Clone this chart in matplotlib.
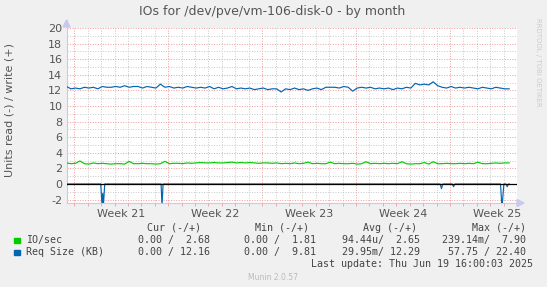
import numpy as np
import matplotlib
matplotlib.use('Agg')
import matplotlib.pyplot as plt
from matplotlib.patches import Polygon

plt.rcParams['axes.unicode_minus'] = False

# write side, sampled every 8 hours (1/3 day)
step_days = 1 / 3
io_write = [2.7, 2.6, 2.65, 2.95, 2.6, 2.55, 2.7, 2.6, 2.65, 2.6,
            2.55, 2.6, 2.6, 2.55, 2.9, 2.6, 2.6, 2.65, 2.6, 2.6,
            2.55, 2.6, 2.9, 2.6, 2.65, 2.65, 2.6, 2.7, 2.65, 2.7,
            2.75, 2.7, 2.7, 2.75, 2.7, 2.7, 2.75, 2.8, 2.7, 2.75,
            2.7, 2.75, 2.7, 2.65, 2.7, 2.7, 2.65, 2.7, 2.6, 2.65,
            2.6, 2.7, 2.6, 2.65, 2.8, 2.6, 2.65, 2.6, 2.6, 2.8,
            2.6, 2.65, 2.6, 2.6, 2.65, 2.55, 2.6, 2.85, 2.6, 2.65,
            2.6, 2.65, 2.6, 2.65, 2.6, 2.85, 2.6, 2.55, 2.6, 2.6,
            2.75, 2.55, 2.85, 2.6, 2.6, 2.65, 2.6, 2.6, 2.65, 2.6,
            2.65, 2.6, 2.8, 2.6, 2.6, 2.65, 2.7, 2.65, 2.7, 2.7]
req_write = [12.5, 12.2, 12.3, 12.2, 12.4, 12.3, 12.4, 12.2, 12.5, 12.4,
             12.4, 12.5, 12.4, 12.6, 12.4, 12.5, 12.5, 12.3, 12.5, 12.4,
             12.3, 12.8, 12.4, 12.5, 12.3, 12.4, 12.3, 12.5, 12.4, 12.3,
             12.4, 12.3, 12.5, 12.2, 12.4, 12.2, 12.3, 12.5, 12.2, 12.3,
             12.2, 12.3, 12.1, 12.2, 12.3, 12.1, 12.2, 12.2, 11.8, 12.2,
             12.1, 12.3, 12.1, 12.2, 12.0, 12.2, 12.3, 12.1, 12.4, 12.4,
             12.4, 12.3, 12.5, 12.4, 11.9, 12.3, 12.4, 12.3, 12.4, 12.2,
             12.3, 12.2, 12.3, 12.1, 12.3, 12.2, 12.4, 12.3, 12.9, 12.7,
             12.8, 12.7, 13.1, 12.6, 12.4, 12.3, 12.5, 12.3, 12.4, 12.3,
             12.4, 12.3, 12.2, 12.4, 12.3, 12.2, 12.4, 12.3, 12.2, 12.2]

# read side (drawn negative), mostly zero with a few spikes
read_days = [0, 2.55, 2.65, 2.7, 2.75, 2.85, 7.05, 7.12, 7.2, 27.85, 27.95, 28.05,
             28.75, 28.85, 28.95, 32.35, 32.45, 32.5, 32.6, 32.75, 32.85, 32.95, 33.0]
req_read = [0, 0, 2.8, 1.2, 2.8, 0, 0, 2.8, 0, 0, 0.6, 0,
            0, 0.35, 0, 0, 2.8, 2.2, 0, 0, 0.35, 0, 0]

week_labels = ['Week 21', 'Week 22', 'Week 23', 'Week 24', 'Week 25']
week_start = 0.58  # first monday, days from left edge

legend_names = ['IO/sec', 'Req Size (KB)']
legend_cols = ['Cur (-/+)', 'Min (-/+)', 'Avg (-/+)', 'Max (-/+)']
legend_vals = [['0.00 /  2.68', '0.00 /  1.81', '94.44u/  2.65', '239.14m/  7.90'],
               ['0.00 / 12.16', '0.00 /  9.81', '29.95m/ 12.29', '57.75 / 22.40']]
colors = ['#00CC00', '#0066B3']

W, H = 547, 287
fig = plt.figure(figsize=(W / 100, H / 100), dpi=100, facecolor='#F0F0F0')
x0, x1, y0, y1 = 66.5, 517, 28, 203
ax = fig.add_axes([x0 / W, 1 - y1 / H, (x1 - x0) / W, (y1 - y0) / H])
ax.set_facecolor('white')
ax.set_xlim(0, (x1 - x0) / 13.5)
ax.set_ylim(-2.44, 20)

# grid
red = '#EE9C9C'
grey = '#C8C8C8'
dots = (0, (1, 1.6))
for d in np.arange(week_start, 34, 1.0):
    major = abs(((d - week_start) % 7)) < 1e-6
    ax.axvline(d, color=red if major else grey, lw=0.7, ls=dots, zorder=1)
for v in range(-2, 21):
    ax.axhline(v, color=red if v % 2 == 0 else grey, lw=0.7, ls=dots, zorder=1)

t = np.arange(len(req_write)) * step_days
ax.plot(t, io_write, color=colors[0], lw=0.85, zorder=3)
ax.plot(t, req_write, color=colors[1], lw=0.85, zorder=3)
ax.plot(read_days, -np.array(req_read), color=colors[1], lw=0.85, zorder=3)
ax.axhline(0, color='black', lw=0.9, zorder=4)

ax.set_yticks(range(-2, 21, 2))
mids = [week_start + 3.5 + 7 * i for i in range(len(week_labels))]
ax.set_xticks(mids, week_labels)
ax.set_xticks(np.arange(week_start, 34, 1.0), minor=True)
ax.tick_params(axis='both', which='major', length=0, labelsize=8, labelcolor='#555555', pad=3)
ax.tick_params(axis='x', which='minor', length=2, color='#E0A0A0', width=0.6)
ax.tick_params(axis='y', which='minor', length=0)
ax.xaxis.set_tick_params(pad=4)

for s in ['top', 'right']:
    ax.spines[s].set_visible(False)
for s in ['left', 'bottom']:
    ax.spines[s].set_color('#C8C8F0')
    ax.spines[s].set_linewidth(0.8)
ax.spines['bottom'].set_bounds(0, (523 - x0) / 13.5)
ax.spines['left'].set_bounds(-2.44, 21)

# arrow heads
def px(x, y):
    return (x / W, 1 - y / H)

fig.add_artist(Polygon([px(63, 27), px(70, 27), px(66.5, 20)], closed=True,
                       transform=fig.transFigure, color='#C8C8F0', zorder=5))
fig.add_artist(Polygon([px(517, 199.5), px(517, 206.5), px(524, 203)], closed=True,
                       transform=fig.transFigure, color='#C8C8F0', zorder=5))

fig.text(272 / W, 1 - 11 / H, 'IOs for /dev/pve/vm-106-disk-0 - by month',
         ha='center', va='center', fontsize=9, color='#555555')
fig.text(10 / W, 1 - 110 / H, 'Units read (-) / write (+)', rotation=90,
         ha='center', va='center', fontsize=8, color='#555555')
fig.text(538 / W, 1 - 18 / H, 'RRDTOOL / TOBI OETIKER', rotation=270,
         ha='center', va='top', fontsize=5, color='#CCCCCC')

mono = 'DejaVu Sans Mono'
fs = 7.2
tc = '#444444'
head_right = [200.6, 309, 417, 526]
val_right = [210, 316, 420, 526]
for c, xr in zip(legend_cols, head_right):
    fig.text(xr / W, 1 - 228 / H, c, ha='right', va='center', family=mono, fontsize=fs, color=tc)
for r, (name, col) in enumerate(zip(legend_names, colors)):
    yy = 240 + 12 * r
    fig.add_artist(plt.Rectangle(((14) / W, 1 - (yy + 3) / H), 5.5 / W, 5.5 / H,
                                 transform=fig.transFigure, color=col))
    fig.text(26 / W, 1 - yy / H, name, ha='left', va='center', family=mono, fontsize=fs, color=tc)
    for v, xr in zip(legend_vals[r], val_right):
        fig.text(xr / W, 1 - yy / H, v, ha='right', va='center', family=mono, fontsize=fs, color=tc)
fig.text(533 / W, 1 - 264 / H, 'Last update: Thu Jun 19 16:00:03 2025', ha='right', va='center',
         family=mono, fontsize=fs, color=tc)
fig.text(273 / W, 1 - 277 / H, 'Munin 2.0.57', ha='center', va='center', fontsize=5.5, color='#BBBBBB')

fig.savefig('out.png', dpi=100, facecolor=fig.get_facecolor())
